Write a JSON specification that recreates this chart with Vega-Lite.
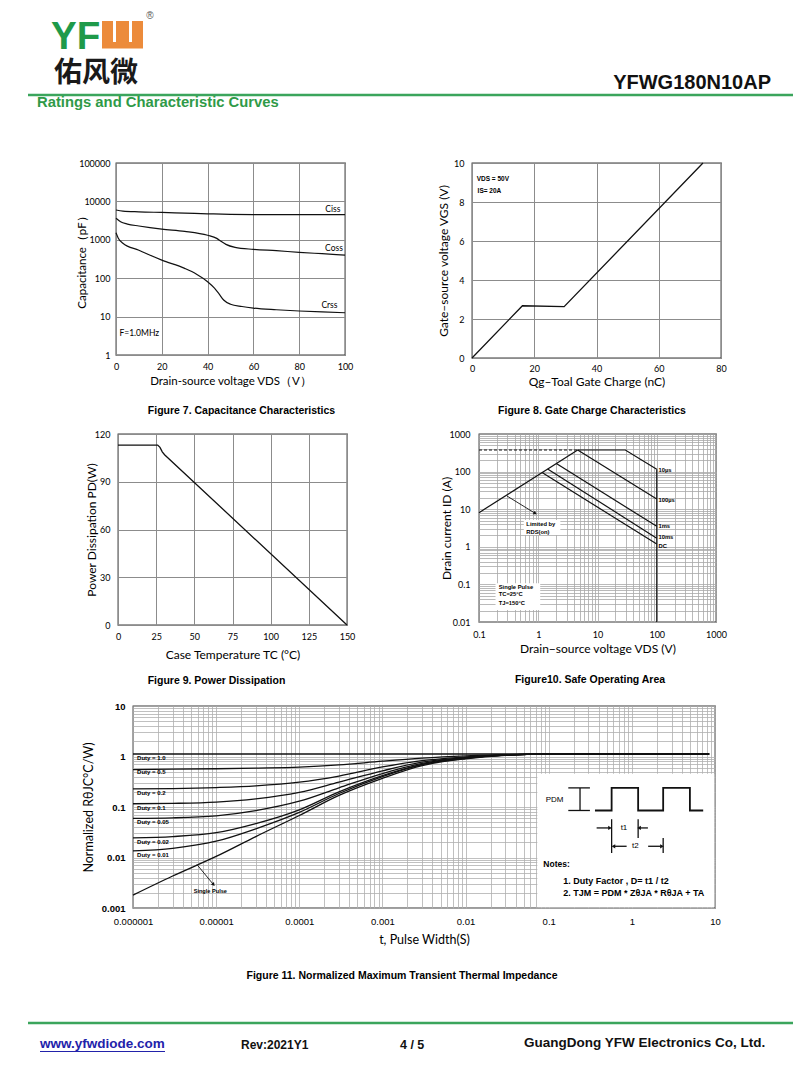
{
"$schema":"https://vega.github.io/schema/vega-lite/v6.json",
"padding":0,
"background":"white",
"spacing":12,
"config":{
 "view":{"stroke":null},
 "axis":{"domain":false,"ticks":false,"labelFlush":false,"labelOverlap":false,"labelFont":"Lato","labelFontSize":9,"labelColor":"#000","titleFont":"Lato","titleFontSize":11.5,"titleFontWeight":"normal","titleColor":"#000","gridColor":"#8c8c8c","gridOpacity":1,"gridWidth":1},
 "title":{"font":"Liberation Sans","fontSize":10.5,"fontWeight":"bold","color":"#000","orient":"bottom","frame":"group","anchor":"middle"}
},
"vconcat":[
{
 "width":800,"height":146,
 "data":{"values":[{}]},
 "layer":[
  {"mark":{"type":"rect","color":"#ec8b3b"},"encoding":{"x":{"datum":102,"type":"quantitative","scale":{"domain":[0,800],"nice":false,"zero":false},"axis":null},"x2":{"datum":143},"y":{"datum":21,"type":"quantitative","scale":{"domain":[0,146],"reverse":true,"nice":false,"zero":false},"axis":null},"y2":{"datum":48.5}}},
  {"mark":{"type":"rect","color":"#ffffff"},"encoding":{"x":{"datum":113,"type":"quantitative","scale":{"domain":[0,800],"nice":false,"zero":false},"axis":null},"x2":{"datum":116},"y":{"datum":20,"type":"quantitative","scale":{"domain":[0,146],"reverse":true,"nice":false,"zero":false},"axis":null},"y2":{"datum":42}}},
  {"mark":{"type":"rect","color":"#ffffff"},"encoding":{"x":{"datum":129,"type":"quantitative","scale":{"domain":[0,800],"nice":false,"zero":false},"axis":null},"x2":{"datum":132},"y":{"datum":20,"type":"quantitative","scale":{"domain":[0,146],"reverse":true,"nice":false,"zero":false},"axis":null},"y2":{"datum":42}}},
  {"mark":{"type":"text","text":"YF","font":"Liberation Sans","fontWeight":"bold","fontSize":38.5,"color":"#1e9a4a","align":"left","baseline":"alphabetic"},"encoding":{"x":{"datum":51,"type":"quantitative","scale":{"domain":[0,800],"nice":false,"zero":false},"axis":null},"y":{"datum":48.5,"type":"quantitative","scale":{"domain":[0,146],"reverse":true,"nice":false,"zero":false},"axis":null}}},
  {"mark":{"type":"text","text":"®","font":"Liberation Sans","fontSize":10,"color":"#555555","align":"center","baseline":"middle"},"encoding":{"x":{"datum":150,"type":"quantitative","scale":{"domain":[0,800],"nice":false,"zero":false},"axis":null},"y":{"datum":16,"type":"quantitative","scale":{"domain":[0,146],"reverse":true,"nice":false,"zero":false},"axis":null}}},
  {"mark":{"type":"text","text":"佑风微","font":"Noto Sans CJK SC","fontWeight":"bold","fontSize":28,"color":"#1a1a1a","align":"left","baseline":"middle"},"encoding":{"x":{"datum":54,"type":"quantitative","scale":{"domain":[0,800],"nice":false,"zero":false},"axis":null},"y":{"datum":74,"type":"quantitative","scale":{"domain":[0,146],"reverse":true,"nice":false,"zero":false},"axis":null}}},
  {"mark":{"type":"text","text":"YFWG180N10AP","font":"Liberation Sans","fontWeight":"bold","fontSize":20,"color":"#111111","align":"right","baseline":"alphabetic"},"encoding":{"x":{"datum":771,"type":"quantitative","scale":{"domain":[0,800],"nice":false,"zero":false},"axis":null},"y":{"datum":89,"type":"quantitative","scale":{"domain":[0,146],"reverse":true,"nice":false,"zero":false},"axis":null}}},
  {"mark":{"type":"rule","color":"#3ba55c","strokeWidth":2.5},"encoding":{"x":{"datum":28,"type":"quantitative","scale":{"domain":[0,800],"nice":false,"zero":false},"axis":null},"x2":{"datum":793},"y":{"datum":95,"type":"quantitative","scale":{"domain":[0,146],"reverse":true,"nice":false,"zero":false},"axis":null}}},
  {"mark":{"type":"text","text":"Ratings and Characteristic Curves","font":"Liberation Sans","fontWeight":"bold","fontSize":14.8,"color":"#2f9a48","align":"left","baseline":"middle"},"encoding":{"x":{"datum":37,"type":"quantitative","scale":{"domain":[0,800],"nice":false,"zero":false},"axis":null},"y":{"datum":103,"type":"quantitative","scale":{"domain":[0,146],"reverse":true,"nice":false,"zero":false},"axis":null}}}
 ]
},
{
 "hconcat":[
  {"width":116,"height":10,"data":{"values":[{}]},"mark":{"type":"point","opacity":0}},
  {
   "width":229,"height":192,
   "view":{"stroke":"#3a3a3a","strokeWidth":1.3},
   "title":{"text":"Figure 7. Capacitance Characteristics","dx":11,"offset":19},
   "data":{"values":[{}]},
   "layer":[
    {"data":{"values":[
      {"v":0,"c":5970,"s":"Ciss"},{"v":3,"c":5600,"s":"Ciss"},{"v":10,"c":5350,"s":"Ciss"},{"v":20,"c":5150,"s":"Ciss"},{"v":30,"c":4950,"s":"Ciss"},{"v":40,"c":4750,"s":"Ciss"},{"v":50,"c":4600,"s":"Ciss"},{"v":60,"c":4550,"s":"Ciss"},{"v":80,"c":4500,"s":"Ciss"},{"v":100,"c":4500,"s":"Ciss"},
      {"v":0,"c":3630,"s":"Coss"},{"v":2,"c":2950,"s":"Coss"},{"v":5,"c":2570,"s":"Coss"},{"v":10,"c":2290,"s":"Coss"},{"v":20,"c":1900,"s":"Coss"},{"v":30,"c":1660,"s":"Coss"},{"v":40,"c":1310,"s":"Coss"},{"v":44,"c":1090,"s":"Coss"},{"v":46,"c":900,"s":"Coss"},{"v":48,"c":760,"s":"Coss"},{"v":52,"c":635,"s":"Coss"},{"v":60,"c":565,"s":"Coss"},{"v":70,"c":520,"s":"Coss"},{"v":80,"c":472,"s":"Coss"},{"v":90,"c":435,"s":"Coss"},{"v":100,"c":400,"s":"Coss"},
      {"v":0,"c":1530,"s":"Crss"},{"v":1,"c":1100,"s":"Crss"},{"v":3,"c":810,"s":"Crss"},{"v":10,"c":535,"s":"Crss"},{"v":20,"c":295,"s":"Crss"},{"v":30,"c":180,"s":"Crss"},{"v":35,"c":129,"s":"Crss"},{"v":40,"c":81,"s":"Crss"},{"v":43,"c":55,"s":"Crss"},{"v":45,"c":39,"s":"Crss"},{"v":47,"c":27,"s":"Crss"},{"v":50,"c":21,"s":"Crss"},{"v":55,"c":18.3,"s":"Crss"},{"v":60,"c":16.7,"s":"Crss"},{"v":70,"c":15.1,"s":"Crss"},{"v":80,"c":14,"s":"Crss"},{"v":90,"c":13.2,"s":"Crss"},{"v":100,"c":12.6,"s":"Crss"}
     ]},
     "mark":{"type":"line","interpolate":"monotone","color":"#111111","strokeWidth":1.2},
     "encoding":{
      "x":{"field":"v","type":"quantitative","scale":{"domain":[0,100],"nice":false,"zero":false},"axis":{"values":[0,20,40,60,80,100],"tickCount":12,"title":"Drain-source voltage VDS（V）","labelPadding":7,"minExtent":12,"maxExtent":12,"titlePadding":8}},
      "y":{"field":"c","type":"quantitative","scale":{"type":"log","domain":[1,100000],"nice":false},"axis":{"values":[1,10,100,1000,10000,100000],"labelExpr":"format(datum.value,'~f')","title":"Capacitance（pF）","labelPadding":6,"minExtent":22,"maxExtent":22,"titlePadding":7}},
      "detail":{"field":"s"}
     }
    },
    {"data":{"values":[{"v":94.7,"c":6300,"t":"Ciss"},{"v":95.2,"c":610,"t":"Coss"},{"v":93.2,"c":20.5,"t":"Crss"}]},
     "mark":{"type":"text","font":"Lato","fontSize":8.5,"color":"#000000","align":"center","baseline":"middle"},
     "encoding":{"x":{"field":"v","type":"quantitative"},"y":{"field":"c","type":"quantitative"},"text":{"field":"t"}}},
    {"data":{"values":[{"v":1.5,"c":3.8,"t":"F=1.0MHz"}]},
     "mark":{"type":"text","font":"Lato","fontSize":8.5,"color":"#000000","align":"left","baseline":"middle"},
     "encoding":{"x":{"field":"v","type":"quantitative"},"y":{"field":"c","type":"quantitative"},"text":{"field":"t"}}}
   ]
  },
  {"width":127,"height":10,"data":{"values":[{}]},"mark":{"type":"point","opacity":0}},
  {
   "width":249,"height":195,
   "view":{"stroke":"#3a3a3a","strokeWidth":1.3},
   "title":{"text":"Figure 8. Gate Charge Characteristics","dx":-4.5,"offset":18},
   "layer":[
    {"data":{"values":[{"q":0,"v":0},{"q":16.2,"v":2.68},{"q":29.6,"v":2.63},{"q":74.2,"v":10}]},
     "mark":{"type":"line","color":"#111111","strokeWidth":1.3},
     "encoding":{
      "x":{"field":"q","type":"quantitative","scale":{"domain":[0,80],"nice":false,"zero":false},"axis":{"values":[0,20,40,60,80],"tickCount":12,"title":"Qg–Toal Gate Charge  (nC)","titleFontSize":12,"labelPadding":6,"minExtent":10,"maxExtent":10,"titlePadding":8.5}},
      "y":{"field":"v","type":"quantitative","scale":{"domain":[0,10],"nice":false,"zero":false},"axis":{"values":[0,2,4,6,8,10],"tickCount":12,"title":"Gate–source voltage VGS (V)","titleFontSize":12,"labelPadding":8,"minExtent":15,"maxExtent":15,"titlePadding":6.7}}
     }
    },
    {"data":{"values":[{"q":1.5,"v":9.18,"t":"VDS = 50V"},{"q":1.8,"v":8.55,"t":"IS= 20A"}]},
     "mark":{"type":"text","font":"Liberation Sans","fontWeight":"bold","fontSize":6.5,"color":"#000000","align":"left","baseline":"middle"},
     "encoding":{"x":{"field":"q","type":"quantitative"},"y":{"field":"v","type":"quantitative"},"text":{"field":"t"}}}
   ]
  }
 ],
 "spacing":0,
 "bounds":"flush"
},
{
 "hconcat":[
  {"width":118,"height":10,"data":{"values":[{}]},"mark":{"type":"point","opacity":0}},
  {
   "width":229,"height":191,
   "view":{"stroke":"#3a3a3a","strokeWidth":1.3},
   "title":{"text":"Figure 9. Power Dissipation","dx":-16,"offset":16},
   "data":{"values":[{"t":0,"p":113},{"t":26,"p":113},{"t":27.5,"p":111.6},{"t":29,"p":108.8},{"t":30.5,"p":107},{"t":150,"p":0}]},
   "mark":{"type":"line","color":"#111111","strokeWidth":1.3},
   "encoding":{
    "x":{"field":"t","type":"quantitative","scale":{"domain":[0,150],"nice":false,"zero":false},"axis":{"values":[0,25,50,75,100,125,150],"tickCount":12,"title":"Case Temperature TC (°C)","titleFontSize":12,"labelPadding":7,"minExtent":12,"maxExtent":12,"titlePadding":12}},
    "y":{"field":"p","type":"quantitative","scale":{"domain":[0,120],"nice":false,"zero":false},"axis":{"values":[0,30,60,90,120],"tickCount":12,"title":"Power Dissipation PD(W)","titleFontSize":12,"labelPadding":8,"minExtent":14,"maxExtent":14,"titlePadding":6}}
   }
  },
  {"width":132,"height":10,"data":{"values":[{}]},"mark":{"type":"point","opacity":0}},
  {
   "width":237,"height":188,
   "view":{"stroke":"#3a3a3a","strokeWidth":1.3},
   "title":{"text":"Figure10. Safe Operating Area","dx":-7.5,"offset":21},
   "data":{"values":[{}]},
   "layer":[
    {"data":{"values":[
      {"x":0.1,"y":8.1,"s":"rds"},{"x":4.63,"y":375,"s":"rds"},
      {"x":4.63,"y":375,"s":"10us"},{"x":29.5,"y":375,"s":"10us"},{"x":100,"y":115,"s":"10us"},
      {"x":4.63,"y":375,"s":"100us"},{"x":100,"y":18.7,"s":"100us"},
      {"x":2.02,"y":164,"s":"1ms"},{"x":100,"y":3.5,"s":"1ms"},
      {"x":1.44,"y":117,"s":"10ms"},{"x":100,"y":1.7,"s":"10ms"},
      {"x":1.16,"y":94,"s":"dc"},{"x":100,"y":1.19,"s":"dc"},
      {"x":100,"y":115,"s":"lim"},{"x":100,"y":0.01,"s":"lim"}
     ]},
     "mark":{"type":"line","color":"#111111","strokeWidth":1.2},
     "encoding":{
      "x":{"field":"x","type":"quantitative","scale":{"type":"log","domain":[0.1,1000],"nice":false},"axis":{"values":[0.1,0.2,0.3,0.4,0.5,0.6,0.7,0.8,0.9,1,2,3,4,5,6,7,8,9,10,20,30,40,50,60,70,80,90,100,200,300,400,500,600,700,800,900,1000],"labelExpr":"indexof([0.1,1,10,100,1000],datum.value)>=0 ? format(datum.value,'~f') : ''","gridColor":"#a8a8a8","gridWidth":0.8,"title":"Drain−source voltage VDS (V)","titleFontSize":12,"labelPadding":8,"minExtent":12,"maxExtent":12,"titlePadding":9}},
      "y":{"field":"y","type":"quantitative","scale":{"type":"log","domain":[0.01,1000],"nice":false},"axis":{"values":[0.01,0.02,0.03,0.04,0.05,0.06,0.07,0.08,0.09,0.1,0.2,0.3,0.4,0.5,0.6,0.7,0.8,0.9,1,2,3,4,5,6,7,8,9,10,20,30,40,50,60,70,80,90,100,200,300,400,500,600,700,800,900,1000],"labelExpr":"indexof([0.01,0.1,1,10,100,1000],datum.value)>=0 ? format(datum.value,'~f') : ''","gridColor":"#a8a8a8","gridWidth":0.8,"title":"Drain current ID (A)","titleFontSize":12,"labelPadding":9,"minExtent":18,"maxExtent":18,"titlePadding":7.3}},
      "detail":{"field":"s"}
     }
    },
    {"data":{"values":[{"x":0.57,"x2":2.36,"y":2.06,"y2":5.2},{"x":0.19,"x2":1.08,"y":0.021,"y2":0.107}]},
     "mark":{"type":"rect","color":"#ffffff"},
     "encoding":{"x":{"field":"x","type":"quantitative"},"x2":{"field":"x2"},"y":{"field":"y","type":"quantitative"},"y2":{"field":"y2"}}},
    {"data":{"values":[{"x":0.1,"y":375},{"x":4.63,"y":375}]},
     "mark":{"type":"line","color":"#111111","strokeWidth":1.1,"strokeDash":[3,2]},
     "encoding":{"x":{"field":"x","type":"quantitative"},"y":{"field":"y","type":"quantitative"}}},
    {"mark":{"type":"rule","color":"#111111","strokeWidth":0.9},
     "encoding":{"x":{"datum":0.297,"type":"quantitative"},"x2":{"datum":0.89},"y":{"datum":22.4,"type":"quantitative"},"y2":{"datum":7.76}}},
    {"mark":{"type":"point","shape":"triangle-up","filled":true,"color":"#111111","size":16,"angle":121,"opacity":1},
     "encoding":{"x":{"datum":0.89,"type":"quantitative"},"y":{"datum":7.76,"type":"quantitative"}}},
    {"data":{"values":[
      {"x":107,"y":110,"t":"10µs"},{"x":107,"y":17.6,"t":"100µs"},{"x":107,"y":3.57,"t":"1ms"},{"x":107,"y":1.79,"t":"10ms"},{"x":107,"y":1.05,"t":"DC"},
      {"x":0.63,"y":4.0,"t":"Limited by"},{"x":0.63,"y":2.45,"t":"RDS(on)"},
      {"x":0.215,"y":0.0836,"t":"Single Pulse"},{"x":0.215,"y":0.0545,"t":"TC=25°C"},{"x":0.215,"y":0.0316,"t":"TJ=150°C"}
     ]},
     "mark":{"type":"text","font":"Liberation Sans","fontWeight":"bold","fontSize":5.8,"color":"#000000","align":"left","baseline":"middle"},
     "encoding":{"x":{"field":"x","type":"quantitative"},"y":{"field":"y","type":"quantitative"},"text":{"field":"t"}}}
   ]
  }
 ],
 "spacing":0,
 "bounds":"flush"
},
{
 "hconcat":[
  {"width":133,"height":10,"data":{"values":[{}]},"mark":{"type":"point","opacity":0}},
  {
   "width":582,"height":202,
   "view":{"stroke":"#3a3a3a","strokeWidth":1.3},
   "title":{"text":"Figure 11. Normalized Maximum Transient Thermal Impedance","dx":-22,"offset":25},
   "data":{"values":[{}]},
   "layer":[
    {"data":{"values":[
      {"t":0.000001,"z":1.12,"d":"1.0"},{"t":8.5,"z":1.12,"d":"1.0"},
      {"t":0.000001,"z":0.552,"d":"0.5"},{"t":0.000003,"z":0.56,"d":"0.5"},{"t":0.00001,"z":0.572,"d":"0.5"},{"t":0.00003,"z":0.59,"d":"0.5"},{"t":0.0001,"z":0.615,"d":"0.5"},{"t":0.0003,"z":0.68,"d":"0.5"},{"t":0.001,"z":0.81,"d":"0.5"},{"t":0.003,"z":0.93,"d":"0.5"},{"t":0.01,"z":1.03,"d":"0.5"},{"t":0.03,"z":1.09,"d":"0.5"},{"t":0.1,"z":1.11,"d":"0.5"},{"t":1,"z":1.12,"d":"0.5"},{"t":8.5,"z":1.12,"d":"0.5"},
      {"t":0.000001,"z":0.228,"d":"0.2"},{"t":0.000003,"z":0.232,"d":"0.2"},{"t":0.00001,"z":0.243,"d":"0.2"},{"t":0.00003,"z":0.262,"d":"0.2"},{"t":0.0001,"z":0.31,"d":"0.2"},{"t":0.0003,"z":0.41,"d":"0.2"},{"t":0.001,"z":0.62,"d":"0.2"},{"t":0.003,"z":0.83,"d":"0.2"},{"t":0.01,"z":0.98,"d":"0.2"},{"t":0.03,"z":1.08,"d":"0.2"},{"t":0.1,"z":1.11,"d":"0.2"},{"t":1,"z":1.12,"d":"0.2"},{"t":8.5,"z":1.12,"d":"0.2"},
      {"t":0.000001,"z":0.116,"d":"0.1"},{"t":0.000003,"z":0.118,"d":"0.1"},{"t":0.00001,"z":0.125,"d":"0.1"},{"t":0.00003,"z":0.145,"d":"0.1"},{"t":0.0001,"z":0.195,"d":"0.1"},{"t":0.0003,"z":0.31,"d":"0.1"},{"t":0.001,"z":0.52,"d":"0.1"},{"t":0.003,"z":0.77,"d":"0.1"},{"t":0.01,"z":0.95,"d":"0.1"},{"t":0.03,"z":1.07,"d":"0.1"},{"t":0.1,"z":1.11,"d":"0.1"},{"t":1,"z":1.12,"d":"0.1"},{"t":8.5,"z":1.12,"d":"0.1"},
      {"t":0.000001,"z":0.0595,"d":"0.05"},{"t":0.000003,"z":0.061,"d":"0.05"},{"t":0.00001,"z":0.067,"d":"0.05"},{"t":0.00003,"z":0.085,"d":"0.05"},{"t":0.0001,"z":0.13,"d":"0.05"},{"t":0.0003,"z":0.24,"d":"0.05"},{"t":0.001,"z":0.46,"d":"0.05"},{"t":0.003,"z":0.73,"d":"0.05"},{"t":0.01,"z":0.94,"d":"0.05"},{"t":0.03,"z":1.07,"d":"0.05"},{"t":0.1,"z":1.11,"d":"0.05"},{"t":1,"z":1.12,"d":"0.05"},{"t":8.5,"z":1.12,"d":"0.05"},
      {"t":0.000001,"z":0.0245,"d":"0.02"},{"t":0.000003,"z":0.026,"d":"0.02"},{"t":0.00001,"z":0.031,"d":"0.02"},{"t":0.00003,"z":0.047,"d":"0.02"},{"t":0.0001,"z":0.088,"d":"0.02"},{"t":0.0003,"z":0.2,"d":"0.02"},{"t":0.001,"z":0.42,"d":"0.02"},{"t":0.003,"z":0.7,"d":"0.02"},{"t":0.01,"z":0.93,"d":"0.02"},{"t":0.03,"z":1.06,"d":"0.02"},{"t":0.1,"z":1.11,"d":"0.02"},{"t":1,"z":1.12,"d":"0.02"},{"t":8.5,"z":1.12,"d":"0.02"},
      {"t":0.000001,"z":0.0135,"d":"0.01"},{"t":0.000003,"z":0.0152,"d":"0.01"},{"t":0.00001,"z":0.021,"d":"0.01"},{"t":0.00003,"z":0.037,"d":"0.01"},{"t":0.0001,"z":0.078,"d":"0.01"},{"t":0.0003,"z":0.185,"d":"0.01"},{"t":0.001,"z":0.4,"d":"0.01"},{"t":0.003,"z":0.69,"d":"0.01"},{"t":0.01,"z":0.92,"d":"0.01"},{"t":0.03,"z":1.06,"d":"0.01"},{"t":0.1,"z":1.11,"d":"0.01"},{"t":1,"z":1.12,"d":"0.01"},{"t":8.5,"z":1.12,"d":"0.01"},
      {"t":0.000001,"z":0.0018,"d":"single"},{"t":0.000003,"z":0.0043,"d":"single"},{"t":0.00001,"z":0.0105,"d":"single"},{"t":0.00003,"z":0.026,"d":"single"},{"t":0.0001,"z":0.068,"d":"single"},{"t":0.0003,"z":0.17,"d":"single"},{"t":0.001,"z":0.37,"d":"single"},{"t":0.003,"z":0.66,"d":"single"},{"t":0.01,"z":0.9,"d":"single"},{"t":0.03,"z":1.05,"d":"single"},{"t":0.1,"z":1.11,"d":"single"},{"t":1,"z":1.12,"d":"single"},{"t":8.5,"z":1.12,"d":"single"}
     ]},
     "mark":{"type":"line","interpolate":"monotone","color":"#111111","strokeWidth":1.3},
     "encoding":{
      "x":{"field":"t","type":"quantitative","scale":{"type":"log","domain":[0.000001,10],"nice":false},"axis":{"values":[0.000001,0.000002,0.000003,0.000004,0.000005,0.000006,0.000007,0.000008,0.000009,0.00001,0.00002,0.00003,0.00004,0.00005,0.00006,0.00007,0.00008,0.00009,0.0001,0.0002,0.0003,0.0004,0.0005,0.0006,0.0007,0.0008,0.0009,0.001,0.002,0.003,0.004,0.005,0.006,0.007,0.008,0.009,0.01,0.02,0.03,0.04,0.05,0.06,0.07,0.08,0.09,0.1,0.2,0.3,0.4,0.5,0.6,0.7,0.8,0.9,1,2,3,4,5,6,7,8,9,10],"labelExpr":"indexof([0.000001,0.00001,0.0001,0.001,0.01,0.1,1,10],datum.value)>=0 ? format(datum.value,'~f') : ''","gridColor":"#b0b0b0","gridWidth":0.8,"labelFont":"Liberation Sans","labelFontSize":9.5,"title":"t, Pulse Width(S)","titleFontSize":12.5,"labelPadding":8,"minExtent":14,"maxExtent":14,"titlePadding":11.7}},
      "y":{"field":"z","type":"quantitative","scale":{"type":"log","domain":[0.001,10],"nice":false},"axis":{"values":[0.001,0.002,0.003,0.004,0.005,0.006,0.007,0.008,0.009,0.01,0.02,0.03,0.04,0.05,0.06,0.07,0.08,0.09,0.1,0.2,0.3,0.4,0.5,0.6,0.7,0.8,0.9,1,2,3,4,5,6,7,8,9,10],"labelExpr":"indexof([0.001,0.01,0.1,1,10],datum.value)>=0 ? format(datum.value,'~f') : ''","gridColor":"#b0b0b0","gridWidth":0.8,"labelFont":"Liberation Sans","labelFontWeight":"bold","labelFontSize":9.5,"title":"Normalized RθJC°C/W)","titleFontSize":12.5,"labelPadding":8,"minExtent":30,"maxExtent":30,"titlePadding":7.4}},
      "detail":{"field":"d"}
     }
    },
    {"mark":{"type":"rect","color":"#ffffff"},
     "encoding":{"x":{"datum":0.073,"type":"quantitative"},"x2":{"datum":9.8},"y":{"datum":0.00103,"type":"quantitative"},"y2":{"datum":0.454}}},
    {"data":{"values":[
      {"x":0.00000112,"y":0.94,"t":"Duty = 1.0"},{"x":0.00000112,"y":0.49,"t":"Duty = 0.5"},{"x":0.00000112,"y":0.19,"t":"Duty = 0.2"},{"x":0.00000112,"y":0.096,"t":"Duty = 0.1"},{"x":0.00000112,"y":0.05,"t":"Duty = 0.05"},{"x":0.00000112,"y":0.02,"t":"Duty = 0.02"},{"x":0.00000112,"y":0.011,"t":"Duty = 0.01"}
     ]},
     "mark":{"type":"text","font":"Liberation Sans","fontWeight":"bold","fontSize":6,"color":"#000000","align":"left","baseline":"middle"},
     "encoding":{"x":{"field":"x","type":"quantitative"},"y":{"field":"y","type":"quantitative"},"text":{"field":"t"}}},
    {"mark":{"type":"rule","color":"#111111","strokeWidth":0.9},
     "encoding":{"x":{"datum":0.0000059,"type":"quantitative"},"x2":{"datum":0.0000093},"y":{"datum":0.0072,"type":"quantitative"},"y2":{"datum":0.0029}}},
    {"mark":{"type":"point","shape":"triangle-up","filled":true,"color":"#111111","size":16,"angle":140,"opacity":1},
     "encoding":{"x":{"datum":0.0000093,"type":"quantitative"},"y":{"datum":0.0029,"type":"quantitative"}}},
    {"mark":{"type":"text","text":"Single Pulse","font":"Liberation Sans","fontWeight":"bold","fontSize":5.6,"color":"#000000","align":"center","baseline":"middle"},
     "encoding":{"x":{"datum":0.0000085,"type":"quantitative"},"y":{"datum":0.0022,"type":"quantitative"}}},
    {"data":{"values":[
      {"x":0.238,"x2":0.238,"y":0.239,"y2":0.0853},
      {"x":0.172,"x2":0.313,"y":0.239,"y2":0.239},
      {"x":0.172,"x2":0.313,"y":0.0853,"y2":0.0853},
      {"x":0.571,"x2":0.571,"y":0.0573,"y2":0.01228},
      {"x":1.19,"x2":1.19,"y":0.0573,"y2":0.0244},
      {"x":2.38,"x2":2.38,"y":0.0244,"y2":0.01228},
      {"x":0.377,"x2":0.53,"y":0.0385,"y2":0.0385},
      {"x":1.26,"x2":1.56,"y":0.0385,"y2":0.0385},
      {"x":0.62,"x2":0.865,"y":0.01668,"y2":0.01668},
      {"x":1.57,"x2":2.2,"y":0.01668,"y2":0.01668}
     ]},
     "mark":{"type":"rule","color":"#111111","strokeWidth":1.3},
     "encoding":{"x":{"field":"x","type":"quantitative"},"x2":{"field":"x2"},"y":{"field":"y","type":"quantitative"},"y2":{"field":"y2"}}},
    {"data":{"values":[
      {"o":1,"x":0.36,"y":0.0853},{"o":2,"x":0.571,"y":0.0853},{"o":3,"x":0.571,"y":0.239},{"o":4,"x":1.19,"y":0.239},{"o":5,"x":1.19,"y":0.0853},{"o":6,"x":2.38,"y":0.0853},{"o":7,"x":2.38,"y":0.239},{"o":8,"x":4.99,"y":0.239},{"o":9,"x":4.99,"y":0.0853},{"o":10,"x":7.21,"y":0.0853}
     ]},
     "mark":{"type":"line","color":"#111111","strokeWidth":1.8},
     "encoding":{"x":{"field":"x","type":"quantitative"},"y":{"field":"y","type":"quantitative"},"order":{"field":"o"}}},
    {"data":{"values":[{"x":0.546,"y":0.0385},{"x":2.3,"y":0.01668}]},
     "mark":{"type":"point","shape":"triangle-up","filled":true,"color":"#111111","size":18,"angle":90,"opacity":1},
     "encoding":{"x":{"field":"x","type":"quantitative"},"y":{"field":"y","type":"quantitative"}}},
    {"data":{"values":[{"x":1.22,"y":0.0385},{"x":0.6,"y":0.01668}]},
     "mark":{"type":"point","shape":"triangle-up","filled":true,"color":"#111111","size":18,"angle":270,"opacity":1},
     "encoding":{"x":{"field":"x","type":"quantitative"},"y":{"field":"y","type":"quantitative"}}},
    {"mark":{"type":"text","text":"PDM","font":"Liberation Sans","fontSize":8,"color":"#000000","align":"left","baseline":"middle"},
     "encoding":{"x":{"datum":0.092,"type":"quantitative"},"y":{"datum":0.1346,"type":"quantitative"}}},
    {"mark":{"type":"text","text":"t1","font":"Liberation Sans","fontSize":8,"color":"#000000","align":"center","baseline":"middle"},
     "encoding":{"x":{"datum":0.804,"type":"quantitative"},"y":{"datum":0.0385,"type":"quantitative"}}},
    {"mark":{"type":"text","text":"t2","font":"Liberation Sans","fontSize":8,"color":"#000000","align":"center","baseline":"middle"},
     "encoding":{"x":{"datum":1.1,"type":"quantitative"},"y":{"datum":0.01668,"type":"quantitative"}}},
    {"mark":{"type":"text","text":"Notes:","font":"Liberation Sans","fontWeight":"bold","fontSize":8.5,"color":"#000000","align":"left","baseline":"middle"},
     "encoding":{"x":{"datum":0.0861,"type":"quantitative"},"y":{"datum":0.00743,"type":"quantitative"}}},
    {"mark":{"type":"text","text":"1. Duty Factor ,  D= t1 / t2","font":"Liberation Sans","fontWeight":"bold","fontSize":9,"color":"#000000","align":"left","baseline":"middle"},
     "encoding":{"x":{"datum":0.15,"type":"quantitative"},"y":{"datum":0.00337,"type":"quantitative"}}},
    {"mark":{"type":"text","text":"2. TJM = PDM * ZθJA * RθJA + TA","font":"Liberation Sans","fontWeight":"bold","fontSize":9,"color":"#000000","align":"left","baseline":"middle"},
     "encoding":{"x":{"datum":0.15,"type":"quantitative"},"y":{"datum":0.00198,"type":"quantitative"}}}
   ]
  }
 ],
 "spacing":0,
 "bounds":"flush"
},
{
 "width":800,"height":87,
 "data":{"values":[{}]},
 "layer":[
  {"mark":{"type":"rule","color":"#3ba55c","strokeWidth":2.5},"encoding":{"x":{"datum":28,"type":"quantitative","scale":{"domain":[0,800],"nice":false,"zero":false},"axis":null},"x2":{"datum":793},"y":{"datum":1022,"type":"quantitative","scale":{"domain":[994,1081],"reverse":true,"nice":false,"zero":false},"axis":null}}},
  {"mark":{"type":"text","text":"www.yfwdiode.com","font":"Liberation Sans","fontWeight":"bold","fontSize":13.5,"color":"#2222aa","align":"left","baseline":"middle"},"encoding":{"x":{"datum":40,"type":"quantitative","scale":{"domain":[0,800],"nice":false,"zero":false},"axis":null},"y":{"datum":1043,"type":"quantitative","scale":{"domain":[994,1081],"reverse":true,"nice":false,"zero":false},"axis":null}}},
  {"mark":{"type":"rule","color":"#2222aa","strokeWidth":1},"encoding":{"x":{"datum":40,"type":"quantitative","scale":{"domain":[0,800],"nice":false,"zero":false},"axis":null},"x2":{"datum":165},"y":{"datum":1050.5,"type":"quantitative","scale":{"domain":[994,1081],"reverse":true,"nice":false,"zero":false},"axis":null}}},
  {"mark":{"type":"text","text":"Rev:2021Y1","font":"Liberation Sans","fontWeight":"bold","fontSize":12,"color":"#111111","align":"left","baseline":"middle"},"encoding":{"x":{"datum":241,"type":"quantitative","scale":{"domain":[0,800],"nice":false,"zero":false},"axis":null},"y":{"datum":1044,"type":"quantitative","scale":{"domain":[994,1081],"reverse":true,"nice":false,"zero":false},"axis":null}}},
  {"mark":{"type":"text","text":"4 / 5","font":"Liberation Sans","fontWeight":"bold","fontSize":12.5,"color":"#111111","align":"left","baseline":"middle"},"encoding":{"x":{"datum":400,"type":"quantitative","scale":{"domain":[0,800],"nice":false,"zero":false},"axis":null},"y":{"datum":1044,"type":"quantitative","scale":{"domain":[994,1081],"reverse":true,"nice":false,"zero":false},"axis":null}}},
  {"mark":{"type":"text","text":"GuangDong YFW Electronics Co, Ltd.","font":"Liberation Sans","fontWeight":"bold","fontSize":13.5,"color":"#111111","align":"left","baseline":"middle"},"encoding":{"x":{"datum":524,"type":"quantitative","scale":{"domain":[0,800],"nice":false,"zero":false},"axis":null},"y":{"datum":1042,"type":"quantitative","scale":{"domain":[994,1081],"reverse":true,"nice":false,"zero":false},"axis":null}}}
 ]
}
]
}
